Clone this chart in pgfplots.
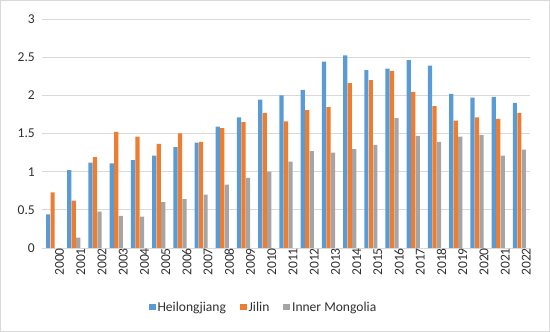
\documentclass[border=0pt]{standalone}
\usepackage{pgfplots}
\pgfplotsset{compat=1.18}
\usepackage{fontspec}
\setmainfont{Carlito}
\definecolor{hl}{HTML}{5B9BD5}
\definecolor{jl}{HTML}{ED7D31}
\definecolor{im}{HTML}{A5A5A5}
\definecolor{gridc}{HTML}{D9D9D9}
\definecolor{txt}{HTML}{303030}
\begin{document}
\begin{tikzpicture}
\useasboundingbox (0bp,0bp) rectangle (550bp,332bp);
\draw[gridc, line width=0.8bp] (0.5bp,0.5bp) rectangle (549.5bp,331.5bp);
\begin{axis}[at={(42bp,84bp)}, anchor=south west, scale only axis,
  width=488bp, height=229bp,
  ybar=0.3bp, bar width=4.2bp,
  xmin=-0.5, xmax=22.5, ymin=0, ymax=3,
  xtick={0,...,22},
  xticklabels={2000,2001,2002,2003,2004,2005,2006,2007,2008,2009,2010,2011,2012,2013,2014,2015,2016,2017,2018,2019,2020,2021,2022},
  ytick={0,0.5,1,1.5,2,2.5,3},
  yticklabels={0,0.5,1,1.5,2,2.5,3},
  major tick length=0pt,
  axis x line*=bottom, axis y line*=left,
  y axis line style={draw=none},
  x axis line style={draw=gridc, line width=0.8bp, -},
  ymajorgrids, grid style={draw=gridc, line width=0.8bp},
  tick label style={font=\fontsize{13.6}{15}\selectfont, text=txt},
  yticklabel style={anchor=east, inner sep=0pt, xshift=-7bp},
  xticklabel style={rotate=90, anchor=east, inner sep=0pt, yshift=-7bp},
  legend style={at={(0.454,-0.258)}, anchor=center, draw=none, fill=none,
    legend columns=3, font=\fontsize{13.6}{15}\selectfont, text=txt,
    /tikz/every even column/.append style={column sep=12bp},
    nodes={inner sep=2bp}},
  sqleg/.style={legend image code/.code={\fill[##1] (0bp,-3.3bp) rectangle (6.7bp,3.3bp);}},
]
\addplot[fill=hl, draw=none, sqleg] coordinates {
(0,0.44) (1,1.02) (2,1.12) (3,1.11) (4,1.15) (5,1.21) (6,1.32) (7,1.38) (8,1.59) (9,1.71) (10,1.945)
(11,2.00) (12,2.07) (13,2.44) (14,2.525) (15,2.33) (16,2.35) (17,2.46) (18,2.39) (19,2.02) (20,1.97) (21,1.98) (22,1.90)};
\addplot[fill=jl, draw=none, sqleg] coordinates {
(0,0.73) (1,0.62) (2,1.19) (3,1.52) (4,1.46) (5,1.365) (6,1.50) (7,1.39) (8,1.57) (9,1.65) (10,1.77)
(11,1.66) (12,1.805) (13,1.845) (14,2.16) (15,2.20) (16,2.32) (17,2.045) (18,1.86) (19,1.67) (20,1.71) (21,1.69) (22,1.77)};
\addplot[fill=im, draw=none, sqleg] coordinates {
(0,0) (1,0.135) (2,0.475) (3,0.42) (4,0.41) (5,0.60) (6,0.64) (7,0.70) (8,0.83) (9,0.92) (10,1.00)
(11,1.13) (12,1.27) (13,1.25) (14,1.295) (15,1.35) (16,1.70) (17,1.47) (18,1.39) (19,1.46) (20,1.48) (21,1.21) (22,1.29)};
\legend{Heilongjiang,Jilin,Inner Mongolia}
\end{axis}
\end{tikzpicture}
\end{document}
